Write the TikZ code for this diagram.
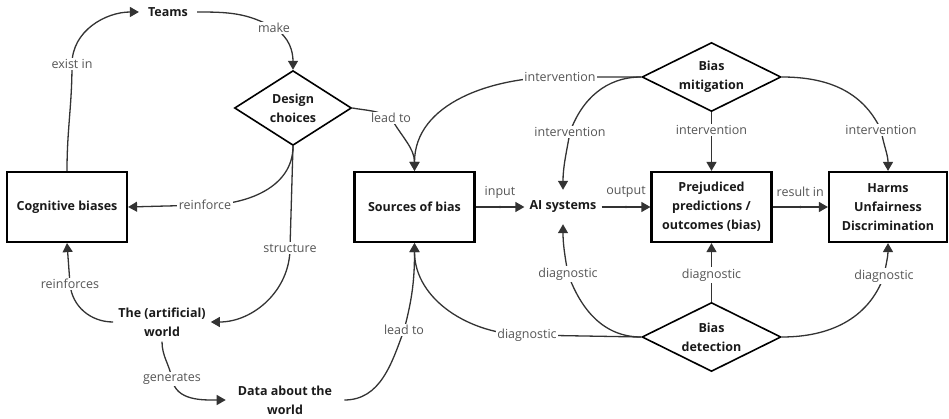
\documentclass[tikz,border=0pt]{standalone}
\usepackage{fontspec}
\setmainfont{Open Sans}
\usetikzlibrary{shapes.geometric,arrows.meta}

\definecolor{linecol}{HTML}{333333}
\definecolor{lblcol}{HTML}{555555}
\definecolor{txtcol}{HTML}{1A1A1A}
\newcommand\diagbold{\fontsize{12.5}{19}\selectfont\bfseries}
\newcommand\diaglabel{\fontsize{12.5}{15}\selectfont}

\tikzset{
  box/.style={draw=black, line width=2.2pt, minimum width=120pt, minimum height=70pt,
    align=center, font=\diagbold, text=txtcol, inner sep=2pt},
  choice/.style={diamond, draw=black, line width=1.6pt, align=center, font=\diagbold,
    text=txtcol, inner sep=0pt, minimum height=69pt},
  plain/.style={align=center, font=\diagbold, text=txtcol, inner sep=5pt},
  lbl/.style={fill=white, text=lblcol, font=\diaglabel, inner sep=1.5pt},
  toplbl/.style={text=lblcol, font=\diaglabel, inner sep=0pt, yshift=15pt},
  conn/.style={draw=linecol, line width=1.3pt, -{Triangle[length=9pt,width=10pt]}},
  waypt/.style={circle, fill=linecol, inner sep=0pt, minimum size=2.6pt},
}

\begin{document}
\begin{tikzpicture}[x=1pt,y=1pt]
\useasboundingbox (0,0) rectangle (949,-419);

% concept nodes
\node[plain, inner xsep=9pt] (teams) at (168,-12) {Teams};
\node[choice, minimum width=117pt] (dc) at (293,-108) {Design\\choices};
\node[box] (cog) at (67,-207) {Cognitive biases};
\node[plain] (world) at (162,-322) {The (artificial)\\world};
\node[plain, inner xsep=12pt] (data) at (285,-400) {Data about the\\world};
\node[box] (src) at (414.5,-207) {Sources of bias};
\node[plain, inner xsep=5pt, minimum height=34pt] (ai) at (563,-207) {AI systems};
\node[box] (pp) at (711.5,-207) {Prejudiced\\predictions /\\outcomes (bias)};
\node[box, minimum width=118pt] (harm) at (888,-207) {Harms\\Unfairness\\Discrimination};
\node[choice, minimum width=139pt, aspect=2] (mit) at (711.5,-77) {Bias\\mitigation};
\node[choice, minimum width=139pt, aspect=2] (det) at (711.5,-337) {Bias\\detection};

% left loop
\draw[conn] (cog.north) to[out=90,in=-90] (72,-64) node[lbl] (l1) {exist in}
  to[out=90,in=180] (teams.west);
\draw[conn] (teams.east) to[out=0,in=150] (274,-28) node[lbl] (l2) {make}
  to[out=-30,in=90] (dc.north);
\draw[conn] (dc.south) to[out=-90,in=0] (205,-205) node[lbl] (l3) {reinforce}
  -- (cog.east);
\draw[conn] (dc.south) -- (290,-248) node[lbl] (l4) {structure}
  to[out=-90,in=0] (world.east);
\draw[conn] (world.west) to[out=180,in=-85] (70,-284) node[lbl] (l5) {reinforces}
  -- (cog.south);
\draw[conn] (world.south) to[out=-90,in=100] (172,-379) node[lbl] (l6) {generates}
  to[out=-80,in=180] (data.west);
\draw[conn] (data.east) to[out=0,in=-110] (404,-330) node[lbl] (l7) {lead to}
  to[out=75,in=-90] (src.south);
\draw[conn] (dc.east) to[out=-10,in=150] (391,-118) node[lbl] (l8) {lead to}
  to[out=-60,in=90] (src.north);

% main chain
\draw[conn] (src.east) -- node[waypt] (w1) {} node[toplbl] (l9) {input} (ai.west);
\draw[conn] (ai.east) -- node[waypt] (w2) {} node[toplbl] (l10) {output} (pp.west);
\draw[conn] (pp.east) -- node[waypt] (w3) {} node[toplbl] (l11) {result in} (harm.west);

% mitigation
\draw[conn] (mit.west) -- (560,-77) node[lbl] (l12) {intervention}
  to[out=180,in=90] (src.north);
\draw[conn] (mit.west) to[out=180,in=70] (570,-132) node[lbl] (l13) {intervention}
  to[out=-100,in=90] (ai.north);
\draw[conn] (mit.south) -- (711.5,-130) node[lbl] (l14) {intervention} -- (pp.north);
\draw[conn] (mit.east) to[out=0,in=115] (881,-130) node[lbl] (l15) {intervention}
  to[out=-80,in=90] (harm.north);

% detection
\draw[conn] (det.north) -- (711.5,-275) node[lbl] (l16) {diagnostic} -- (pp.south);
\draw[conn] (det.east) to[out=0,in=-110] (884,-276) node[lbl] (l17) {diagnostic}
  to[out=80,in=-90] (harm.south);
\draw[conn] (det.west) to[out=180,in=-70] (568,-274) node[lbl] (l18) {diagnostic}
  to[out=100,in=-90] (ai.south);
\draw[conn] (det.west) -- (527,-335) node[lbl] (l19) {diagnostic}
  to[out=180,in=-90] (src.south);
\end{tikzpicture}
\end{document}
